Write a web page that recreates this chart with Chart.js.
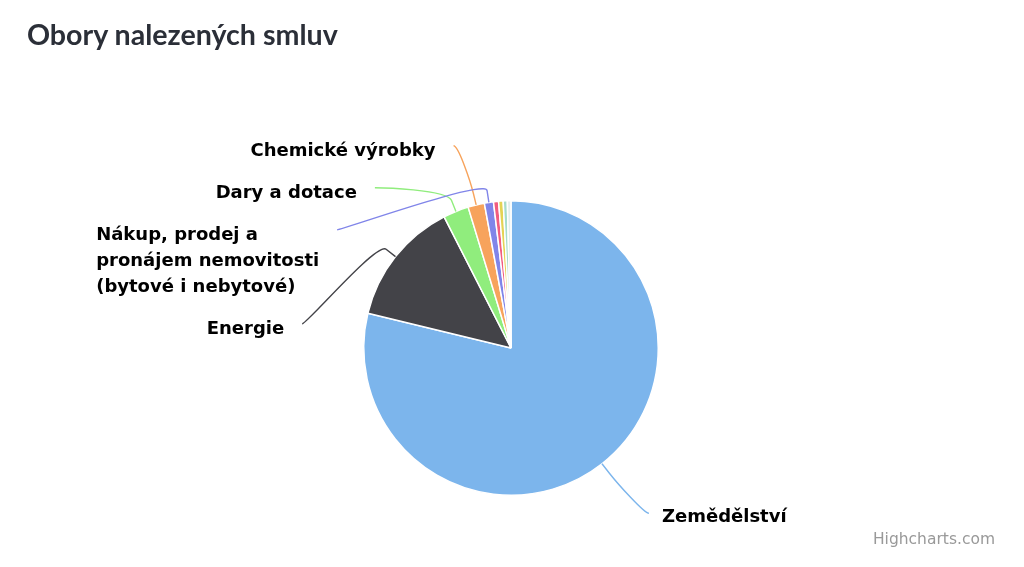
<!DOCTYPE html>
<html lang="cs">
<head>
<meta charset="utf-8">
<title>Obory nalezených smluv</title>
<script src="https://cdn.jsdelivr.net/npm/chart.js@4.4.1/dist/chart.umd.min.js"></script>
<style>
    html, body { margin: 0; padding: 0; background: #fff; }
    #wrap { position: relative; width: 1024px; height: 567px; overflow: hidden; }
    #title { position: absolute; left: 27px; top: 20px; font: bold 28.6px/28px Lato, sans-serif; color: #2b2f38; white-space: nowrap; }
    #credits { position: absolute; right: 29px; top: 530px; font: 15.5px "DejaVu Sans", sans-serif; color: #999; }
    canvas { position: absolute; left: 0; top: 0; }
</style>
</head>
<body>
<div id="wrap">
    <canvas id="pieChart" width="1024" height="567"></canvas>
    <div id="title">Obory nalezených smluv</div>
    <div id="credits">Highcharts.com</div>
</div>
<script>
// Categories and their share of the found contracts (%)
const categories = [
    'Zemědělství',
    'Energie',
    'Dary a dotace',
    'Chemické výrobky',
    'Nákup, prodej a pronájem nemovitosti (bytové i nebytové)',
    'Ostatní 1',
    'Ostatní 2',
    'Ostatní 3',
    'Ostatní 4'
];
const shares = [78.8, 13.7, 2.8, 1.8, 1.0, 0.55, 0.5, 0.45, 0.4];
const sliceColors = ['#7cb5ec', '#434348', '#90ed7d', '#f7a35c', '#8085e9', '#f15c80', '#e4d354', '#a6dcc9', '#e4eeec'];

// labels on the left side, top to bottom
const leftLabelOrder = [
    'Chemické výrobky',
    'Dary a dotace',
    'Nákup, prodej a pronájem nemovitosti (bytové i nebytové)',
    'Energie'
];
const rightLabels = ['Zemědělství'];

function wrapText(ctx, text, maxWidth) {
    const words = text.split(' ');
    const lines = [];
    let line = '';
    words.forEach(function (w) {
        const test = line ? line + ' ' + w : w;
        if (line && ctx.measureText(test).width > maxWidth) {
            lines.push(line);
            line = w;
        } else {
            line = test;
        }
    });
    if (line) lines.push(line);
    return lines;
}

// Highcharts-like outside labels with soft connectors
const outsideLabels = {
    id: 'outsideLabels',
    afterDraw(chart, args, opts) {
        const ctx = chart.ctx;
        const meta = chart.getDatasetMeta(0);
        const labels = chart.data.labels;
        const first = meta.data[0];
        const cx = first.x, cy = first.y, r = first.outerRadius;
        const R = r + opts.distance;
        const lineH = opts.lineHeight;

        ctx.save();
        ctx.font = opts.font;
        ctx.textBaseline = 'middle';

        function connector(arc, ex, ey, color, side) {
            const mid = (arc.startAngle + arc.endAngle) / 2;
            const ax = cx + Math.cos(mid) * r, ay = cy + Math.sin(mid) * r;
            const bx = cx + Math.cos(mid) * (r + opts.breakAt), by = cy + Math.sin(mid) * (r + opts.breakAt);
            ctx.beginPath();
            ctx.moveTo(ex, ey);
            ctx.bezierCurveTo(ex + (side === 'left' ? 5 : -5), ey, 2 * bx - ax, 2 * by - ay, bx, by);
            ctx.lineTo(ax, ay);
            ctx.strokeStyle = color;
            ctx.lineWidth = 1.4;
            ctx.stroke();
        }

        // left stack
        let top = cy - R - 2;
        leftLabelOrder.forEach(function (name) {
            const i = labels.indexOf(name);
            const arc = meta.data[i];
            const lines = wrapText(ctx, name, opts.maxWidth);
            const ey = top + 10;
            const ex = cx - Math.sqrt(Math.max(0, R * R - (ey - cy) * (ey - cy)));
            connector(arc, ex, ey, sliceColors[i], 'left');
            const widths = lines.map(l => ctx.measureText(l).width);
            const blockW = Math.max.apply(null, widths);
            const right = ex - opts.gap;
            ctx.fillStyle = '#000';
            ctx.textAlign = 'left';
            lines.forEach(function (l, k) {
                ctx.fillText(l, right - blockW, top + 16 + k * lineH);
            });
            top += lines.length * lineH + 16;
        });

        // right side at natural positions
        rightLabels.forEach(function (name) {
            const i = labels.indexOf(name);
            const arc = meta.data[i];
            const mid = (arc.startAngle + arc.endAngle) / 2;
            const ey = cy + Math.sin(mid) * R;
            const ex = cx + Math.sqrt(Math.max(0, R * R - (ey - cy) * (ey - cy))) + 8;
            connector(arc, ex, ey, sliceColors[i], 'right');
            ctx.fillStyle = '#000';
            ctx.textAlign = 'left';
            ctx.fillText(name, ex + opts.gap - 5, ey + 4);
        });
        ctx.restore();
    }
};

const pieChart = new Chart(document.getElementById('pieChart').getContext('2d'), {
    type: 'pie',
    data: {
        labels: categories,
        datasets: [{
            data: shares,
            backgroundColor: sliceColors,
            borderColor: '#ffffff',
            borderWidth: 1.5
        }]
    },
    options: {
        responsive: false,
        animation: false,
        devicePixelRatio: 1,
        layout: {
            padding: { top: 200, bottom: 71, left: 100, right: 102 }
        },
        plugins: {
            legend: { display: false },
            tooltip: { enabled: false },
            outsideLabels: {
                distance: 63,
                breakAt: 12,
                gap: 18,
                lineHeight: 26,
                maxWidth: 260,
                font: 'bold 18px "DejaVu Sans", sans-serif'
            }
        }
    },
    plugins: [outsideLabels]
});
</script>
</body>
</html>
